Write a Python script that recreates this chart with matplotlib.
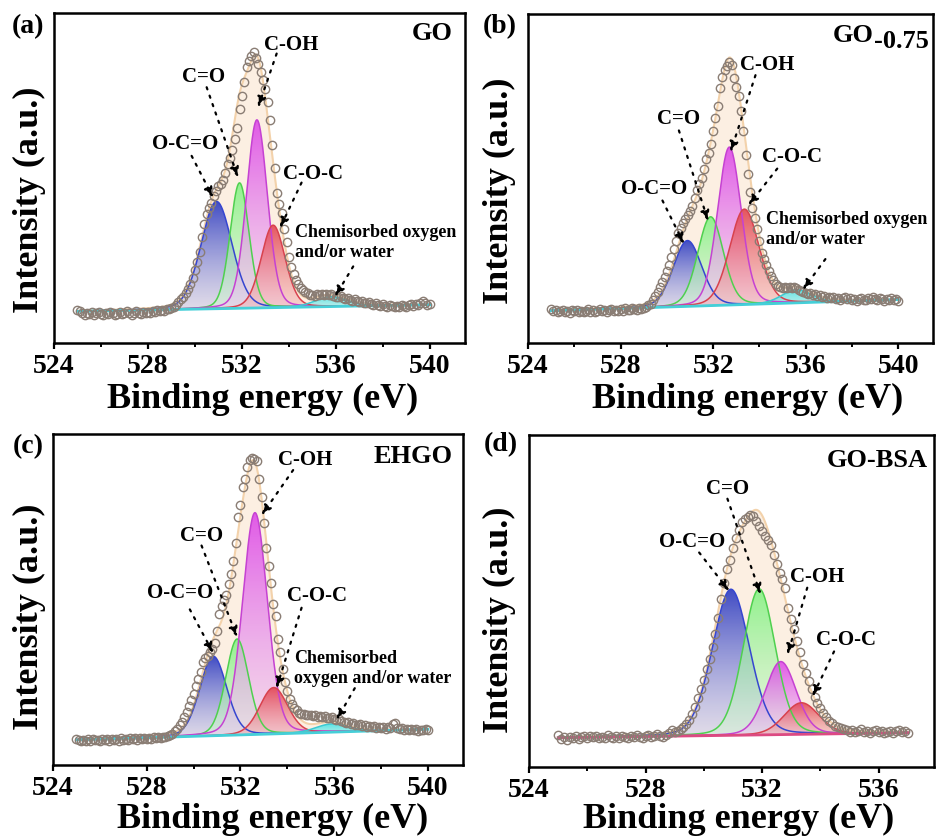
import numpy as np
import matplotlib
matplotlib.use("Agg")
import matplotlib.pyplot as plt
from matplotlib.colors import to_rgb

plt.rcParams["font.family"] = ["Liberation Serif", "DejaVu Serif"]
plt.rcParams["font.weight"] = "bold"

W, H = 936, 838

# ---- measured O 1s spectra (0.1 eV step, from 525 eV) ----
go_counts = [
    9.9, 9.6, 9.0, 8.6, 9.1, 8.8, 9.3, 8.5, 9.0, 9.4,
    8.9, 8.6, 9.2, 8.8, 9.5, 9.0, 8.4, 8.9, 9.3, 8.7,
    9.1, 9.6, 9.0, 8.6, 9.2, 9.7, 9.1, 8.8, 9.4, 9.0,
    9.5, 9.2, 9.8, 9.4, 9.9, 9.6, 10.1, 9.8, 10.4, 10.3,
    10.5, 10.9, 11.4, 12.3, 13.2, 14.0, 15.0, 16.3, 17.8, 19.8,
    22.0, 24.5, 27.5, 32.0, 36.0, 39.0, 41.0, 42.5, 44.5, 46.0,
    47.5, 48.3, 49.5, 51.5, 54.3, 56.0, 58.5, 61.8, 65.3, 71.0,
    74.8, 79.0, 83.5, 85.5, 87.0, 88.2, 86.5, 84.5, 82.0, 79.8,
    77.0, 73.0, 67.5, 60.0, 53.0, 45.5, 42.0, 39.5, 34.5, 30.5,
    26.0, 23.0, 20.8, 19.0, 17.8, 16.8, 16.0, 15.4, 15.0, 14.5,
    14.6, 14.3, 14.8, 14.5, 14.7, 14.4, 14.9, 14.6, 14.8, 14.3,
    14.0, 13.8, 14.1, 13.6, 13.3, 13.5, 13.0, 12.8, 13.2, 12.6,
    12.4, 12.7, 12.2, 12.0, 12.5, 11.9, 11.6, 12.1, 11.5, 11.3,
    11.8, 11.2, 11.0, 11.5, 11.1, 10.8, 11.3, 11.0, 11.6, 11.2,
    10.9, 11.4, 11.7, 11.3, 11.9, 11.5, 12.0, 12.8, 12.1, 11.6,
    11.8]
go075_counts = [
    10.2, 9.6, 9.9, 9.3, 9.8, 10.1, 9.5, 9.7, 9.2, 9.9,
    9.6, 10.0, 9.4, 9.8, 9.3, 9.7, 10.2, 9.5, 9.9, 9.4,
    9.8, 10.3, 9.6, 10.0, 9.5, 9.9, 10.4, 9.8, 10.1, 9.7,
    10.2, 9.8, 10.5, 10.1, 9.9, 10.6, 10.2, 10.0, 10.5, 10.3,
    10.6, 11.0, 11.5, 12.0, 13.0, 14.2, 15.5, 17.0, 18.4, 20.0,
    21.8, 23.8, 26.0, 28.5, 31.0, 33.3, 35.0, 36.4, 37.8, 39.0,
    40.2, 41.5, 44.0, 46.5, 48.3, 50.3, 53.0, 56.0, 57.8, 60.5,
    64.5, 68.5, 72.0, 77.5, 81.0, 83.0, 84.2, 85.3, 84.5, 80.5,
    77.8, 75.0, 70.5, 64.5, 57.0, 51.5, 46.0, 41.0, 38.0, 34.5,
    31.0, 27.5, 25.5, 23.8, 22.0, 20.3, 19.0, 17.8, 17.2, 17.0,
    16.8, 17.0, 16.6, 17.1, 16.8, 17.0, 16.7, 16.2, 15.9, 15.5,
    15.2, 14.9, 15.3, 14.6, 14.8, 14.2, 14.5, 14.0, 14.4, 13.8,
    14.1, 13.6, 13.9, 13.4, 13.8, 13.2, 13.6, 13.9, 13.3, 13.7,
    13.1, 13.5, 12.9, 13.4, 13.8, 13.2, 13.0, 13.6, 13.3, 13.9,
    13.4, 13.1, 13.7, 13.3, 12.9, 13.5, 13.2, 13.6, 13.0, 13.3,
    12.9]
ehgo_counts = [
    8.0, 7.6, 7.2, 7.7, 7.3, 7.8, 7.4, 7.9, 7.5, 7.7,
    7.3, 7.8, 7.5, 7.9, 7.4, 8.0, 7.6, 7.8, 7.4, 8.1,
    7.7, 8.0, 7.6, 8.2, 7.8, 8.1, 7.7, 8.3, 7.9, 8.2,
    7.8, 8.3, 8.0, 8.5, 8.1, 8.4, 8.2, 8.6, 8.4, 8.7,
    9.0, 9.4, 10.2, 11.0, 12.0, 13.0, 14.5, 16.1, 17.8, 19.5,
    21.5, 24.0, 26.0, 28.2, 31.0, 32.2, 33.0, 34.0, 35.0, 36.8,
    40.5, 45.5, 48.0, 50.0, 51.5, 54.8, 57.8, 61.5, 67.0, 75.0,
    78.5, 84.0, 86.5, 90.0, 92.0, 92.8, 92.3, 91.8, 86.5, 81.0,
    73.0, 65.5, 60.0, 55.0, 48.5, 45.0, 38.0, 34.0, 29.0, 25.0,
    22.5, 20.0, 18.5, 17.2, 16.5, 15.8, 15.4, 15.5, 15.2, 15.0,
    15.1, 14.8, 15.0, 14.6, 14.9, 14.4, 14.7, 14.3, 14.1, 14.4,
    13.8, 13.5, 13.9, 13.2, 13.0, 12.6, 12.9, 12.4, 12.7, 12.2,
    12.0, 12.4, 11.8, 12.1, 11.6, 11.9, 11.4, 11.8, 11.3, 11.6,
    11.2, 11.5, 11.0, 11.4, 11.1, 12.3, 12.6, 11.2, 10.8, 11.1,
    10.7, 11.0, 10.6, 10.9, 10.5, 10.8, 10.4, 10.7, 10.5, 10.8,
    10.6]
gobsa_counts = [
    9.6, 8.4, 9.1, 8.2, 9.0, 8.6, 9.3, 8.5, 8.9, 9.2,
    8.7, 9.3, 8.9, 9.4, 8.6, 9.1, 8.8, 9.5, 9.0, 8.7,
    9.2, 8.8, 9.4, 9.0, 8.6, 9.3, 9.0, 9.5, 9.1, 8.8,
    9.3, 9.6, 9.0, 9.4, 9.8, 9.2, 8.9, 9.6, 10.3, 11.0,
    10.5, 10.8, 11.3, 12.0, 13.0, 14.3, 16.0, 18.0, 20.8, 23.5,
    26.2, 29.5, 32.5, 36.0, 40.0, 45.0, 50.5, 55.5, 59.5, 62.5,
    66.0, 69.0, 71.5, 73.8, 74.8, 75.2, 75.8, 75.5, 74.0, 72.5,
    71.0, 69.5, 68.5, 67.0, 64.0, 61.2, 58.5, 56.5, 54.0, 48.0,
    44.5, 41.5, 38.0, 34.5, 31.0, 28.3, 26.0, 23.5, 21.2, 19.3,
    17.8, 16.3, 15.0, 14.0, 13.2, 12.5, 12.0, 11.7, 11.4, 11.2,
    10.6, 11.1, 10.4, 10.9, 11.3, 10.5, 10.8, 10.2, 10.7, 11.0,
    10.4, 10.8, 10.1, 10.6, 10.9, 10.3, 10.7, 11.0, 10.5, 10.8,
    10.2]

# ---- fitted components: centre (eV), height above background, FWHM (eV) ----
# order: O-C=O, C=O, C-OH, C-O-C, chemisorbed oxygen / water
go_center = [530.92, 531.90, 532.64, 533.33, 535.8]
go_height = [32.5, 38.0, 57.0, 25.0, 3.0]
go_fwhm = [1.55, 0.95, 1.05, 1.2, 1.6]
go_bg = [9.6, 11.6]

go075_center = [530.89, 531.89, 532.70, 533.35, 535.6]
go075_height = [20.0, 27.0, 48.0, 29.0, 4.0]
go075_fwhm = [1.45, 1.3, 1.2, 1.5, 1.5]
go075_bg = [9.8, 13.2]

ehgo_center = [530.84, 531.86, 532.62, 533.42, 535.9]
ehgo_height = [24.0, 29.0, 67.0, 14.0, 2.5]
ehgo_fwhm = [1.35, 1.15, 1.25, 1.4, 1.6]
ehgo_bg = [7.6, 10.8]

gobsa_center = [530.93, 531.90, 532.64, 533.35]
gobsa_height = [44.0, 44.0, 22.0, 9.5]
gobsa_fwhm = [1.5, 1.3, 1.25, 1.4]
gobsa_bg = [8.8, 10.3]

# (peak colour, base colour, outline colour)
comp_colors = [("#1f2fbf", "#c9cbf0", "#3646d0"),
               ("#7ef27e", "#d6f6d6", "#4fd04f"),
               ("#dc3fe8", "#eecbf2", "#c542d2"),
               ("#e23a48", "#f4bcbc", "#d8424e"),
               ("#3fe3e6", "#b0f0f2", "#3cc9d2")]
ETA = 0.15  # Lorentzian fraction of the pseudo-Voigt

# label, text position, arrow start, arrow tip (data coords)
go_notes = [("O-C=O", (529.57, 60.3), (529.86, 56.7), (530.78, 44.0)),
            ("C=O", (530.35, 80.6), (530.50, 77.5), (531.84, 50.1)),
            ("C-OH", (534.11, 90.2), (533.48, 87.7), (532.69, 71.4)),
            ("C-O-C", (535.03, 51.1), (534.54, 48.6), (533.62, 34.8)),
            ("Chemisorbed oxygen\nand/or water", (534.26, 30.5), (536.74, 23.2), (535.96, 14.0))]
go075_notes = [("O-C=O", (529.45, 46.9), (529.81, 43.3), (530.74, 30.1)),
               ("C=O", (530.52, 68.2), (530.52, 64.6), (531.79, 37.0)),
               ("C-OH", (534.34, 84.5), (533.83, 81.4), (532.75, 58.0)),
               ("C-O-C", (535.41, 56.5), (534.77, 53.0), (533.52, 41.8)),
               ("Chemisorbed oxygen\nand/or water", (534.30, 34.4), (536.85, 25.5), (535.87, 16.1))]
ehgo_notes = [("O-C=O", (529.42, 52.1), (529.84, 47.0), (530.84, 33.8)),
              ("C=O", (530.34, 69.3), (530.34, 66.3), (531.86, 38.6)),
              ("C-OH", (534.75, 92.1), (534.25, 89.1), (532.90, 75.4)),
              ("C-O-C", (535.25, 51.1), (534.61, 47.5), (533.54, 23.2)),
              ("Chemisorbed\noxygen and/or water", (534.28, 29.2), (536.88, 23.2), (536.10, 13.6))]
gobsa_notes = [("O-C=O", (529.61, 67.7), (529.84, 64.6), (530.87, 53.0)),
               ("C=O", (530.81, 83.8), (530.81, 80.8), (531.95, 52.0)),
               ("C-OH", (533.90, 57.1), (533.55, 54.0), (532.87, 33.8)),
               ("C-O-C", (534.87, 38.4), (534.47, 34.8), (533.73, 21.2))]


def peak(x, c, h, w):
    g = np.exp(-4 * np.log(2) * (x - c) ** 2 / w ** 2)
    l = 1 / (1 + 4 * (x - c) ** 2 / w ** 2)
    return h * ((1 - ETA) * g + ETA * l)


def gradient_fill(ax, x, base, top, c_top, c_bot):
    poly = ax.fill_between(x, base, top, facecolor="none", edgecolor="none")
    n = 200
    t = np.linspace(0, 1, n)
    ct, cb = np.array(to_rgb(c_top)), np.array(to_rgb(c_bot))
    rgba = np.zeros((n, 1, 4))
    rgba[:, 0, :3] = cb + (ct - cb) * t[:, None]
    rgba[:, 0, 3] = 0.5 + 0.35 * t
    im = ax.imshow(rgba, origin="lower", aspect="auto", interpolation="bilinear",
                   extent=[x[0], x[-1], base.min(), top.max()], zorder=2)
    im.set_clip_path(poly.get_paths()[0], ax.transData)


fig = plt.figure(figsize=(W / 100, H / 100), dpi=100)


def px_axes(l, t, r, b):
    return fig.add_axes([l / W, 1 - b / H, (r - l) / W, (b - t) / H])


def ftext(x, y, s, **kw):
    fig.text(x / W, 1 - y / H, s, **kw)


panels = [
    dict(rect=(54, 13, 465, 343), xmax=541.5, counts=go_counts, center=go_center,
         height=go_height, fwhm=go_fwhm, bg=go_bg, notes=go_notes, bgcol="#45cfd8"),
    dict(rect=(528, 14, 933, 343), xmax=541.5, counts=go075_counts, center=go075_center,
         height=go075_height, fwhm=go075_fwhm, bg=go075_bg, notes=go075_notes, bgcol="#45cfd8"),
    dict(rect=(53, 434, 463, 765), xmax=541.5, counts=ehgo_counts, center=ehgo_center,
         height=ehgo_height, fwhm=ehgo_fwhm, bg=ehgo_bg, notes=ehgo_notes, bgcol="#45cfd8"),
    dict(rect=(529, 435, 934, 767), xmax=537.9, counts=gobsa_counts, center=gobsa_center,
         height=gobsa_height, fwhm=gobsa_fwhm, bg=gobsa_bg, notes=gobsa_notes, bgcol="#dc4a82"),
]

for p in panels:
    ax = px_axes(*p["rect"])
    y = np.array(p["counts"])
    e = 525 + 0.1 * np.arange(len(y))
    xend = e[-1]
    x = np.linspace(525, xend, 900)
    base = p["bg"][0] + (p["bg"][1] - p["bg"][0]) * (x - 525) / (xend - 525)
    comps = [peak(x, c, h, w) for c, h, w in zip(p["center"], p["height"], p["fwhm"])]
    env = base + np.sum(comps, axis=0)
    ax.fill_between(x, base, env, color="#fcefe2", lw=0, zorder=1)
    ax.plot(x, env, color="#f3d2ab", lw=1.5, zorder=1.5)
    for comp, (ct, cb, ce) in zip(comps, comp_colors):
        gradient_fill(ax, x, base, base + comp, ct, cb)
        ax.plot(x, base + comp, color=ce, lw=1.1, zorder=2.5)
    ax.plot(x, base, color=p["bgcol"], lw=2, zorder=2.6)
    ax.plot(e, y, "o", ms=6, mfc="none", mec="#8a7d74", mew=1.0, zorder=4)

    for label, txy, start, tip in p["notes"]:
        if "\n" in label:
            ax.text(*txy, label, ha="left", va="center", fontsize=13, linespacing=1.25,
                    zorder=6)
        else:
            ax.text(*txy, label, ha="center", va="center", fontsize=15, zorder=6)
        ax.annotate("", xy=tip, xytext=start, zorder=6,
                    arrowprops=dict(arrowstyle="-|>,head_length=0.6,head_width=0.25",
                                    color="k", lw=1.6, linestyle=(0, (1, 3)),
                                    shrinkA=0, shrinkB=0))

    ax.set_xlim(524, p["xmax"])
    ax.set_ylim(0, 100)
    ax.set_yticks([])
    ax.set_xticks(np.arange(524, p["xmax"], 4))
    ax.set_xticks(np.arange(526, p["xmax"], 4), minor=True)
    ax.tick_params(axis="x", which="major", direction="out", length=4, width=1.6,
                   labelsize=20, pad=4)
    ax.tick_params(axis="x", which="minor", direction="out", length=3, width=1.4)
    for s in ax.spines.values():
        s.set_linewidth(1.8)

# axis titles, panel letters and sample names
for x, y in [(263, 408), (748, 408), (273, 828), (739, 828)]:
    ftext(x, y, "Binding energy (eV)", ha="center", va="baseline", fontsize=26)
for x, y in [(29, 200), (499, 191), (29, 617), (499, 620)]:
    ftext(x, y, "Intensity (a.u.)", ha="center", va="center", rotation=90, fontsize=26)
for s, x, y in [("(a)", 28, 27), ("(b)", 500, 27), ("(c)", 28, 447), ("(d)", 501, 445)]:
    ftext(x, y, s, ha="center", va="center", fontsize=20)
ftext(453, 40, "GO", ha="right", va="baseline", fontsize=19)
ftext(874, 42, "GO", ha="right", va="baseline", fontsize=19)
ftext(874, 48, "-0.75", ha="left", va="baseline", fontsize=19)
ftext(453, 463, "EHGO", ha="right", va="baseline", fontsize=19)
ftext(928, 467, "GO-BSA", ha="right", va="baseline", fontsize=19)

fig.savefig("out.png", dpi=100)
